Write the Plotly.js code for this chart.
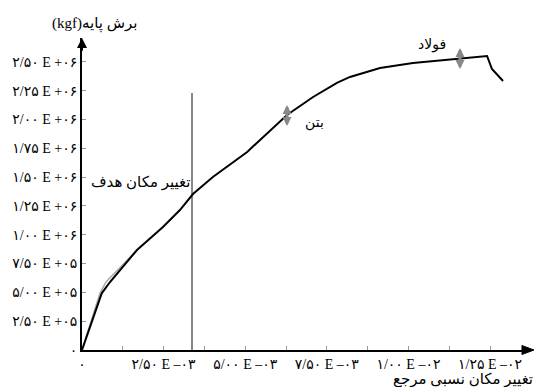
<!DOCTYPE html>
<html>
<head>
<meta charset="utf-8">
<script src="https://cdn.plot.ly/plotly-3.0.1.min.js"></script>
<style>
  html, body { margin: 0; background: #fff; overflow: hidden; }
  #chart { width: 535px; height: 387px; }
</style>
</head>
<body>
<div id="chart"></div>
<script>
// pushover curve: relative roof displacement vs base shear (kgf)
const dispX = [0, 0.000604, 0.000858, 0.001685, 0.00248, 0.0030, 0.0034, 0.00401, 0.00506,
    0.00628, 0.00708, 0.00781, 0.00821, 0.00913, 0.01014, 0.01149, 0.01241, 0.01256, 0.0129];
const shearY = [0, 492000, 590000, 868000, 1068000, 1215000, 1354000, 1502000, 1719000,
    2040000, 2196000, 2318000, 2370000, 2448000, 2491000, 2526000, 2552000, 2439000, 2335000];

// faint second curve near the kink
const grayX = [0, 0.000551, 0.000735, 0.001685];
const grayY = [0, 495000, 590000, 868000];

// target displacement line
const targetX = [0.00337, 0.00337];
const targetY = [0, 2231000];

const yTickVals = [0, 250000, 500000, 750000, 1000000, 1250000, 1500000, 1750000, 2000000, 2250000, 2500000];
const yTickText = ["۰", "۲/۵۰ E +۰۵", "۵/۰۰ E +۰۵", "۷/۵۰ E +۰۵", "۱/۰۰ E +۰۶", "۱/۲۵ E +۰۶",
    "۱/۵۰ E +۰۶", "۱/۷۵ E +۰۶", "۲/۰۰ E +۰۶", "۲/۲۵ E +۰۶", "۲/۵۰ E +۰۶"];

const xTickVals = [0, 0.00125, 0.0025, 0.00375, 0.005, 0.00625, 0.0075, 0.00875, 0.01, 0.01125, 0.0125];
const xTickText = ["۰", "", "۲/۵۰ E –۰۳", "", "۵/۰۰ E –۰۳", "", "۷/۵۰ E –۰۳", "", "۱/۰۰ E –۰۲", "", "۱/۲۵ E –۰۲"];

const xMax = 0.013695;
const yMax = 2708000;

const fontFam = "'Liberation Serif', 'DejaVu Sans', serif";

const traces = [
    {x: grayX, y: grayY, mode: "lines", type: "scatter", line: {color: "#aaaaaa", width: 1.5}, hoverinfo: "skip"},
    {x: targetX, y: targetY, mode: "lines", type: "scatter", line: {color: "#888888", width: 2}, hoverinfo: "skip"},
    {x: dispX, y: shearY, mode: "lines", type: "scatter", line: {color: "#000000", width: 2}}
];

// arrow-only annotation (tiny invisible text so the shaft is not hidden)
function arrow(x, y, ax, ay, opts) {
    return Object.assign({x: x, y: y, ax: ax, ay: ay, xref: "x", yref: "y", axref: "x", ayref: "y",
        text: " ", font: {size: 1}, borderpad: 0, showarrow: true, arrowhead: 2, arrowsize: 1,
        arrowwidth: 2, arrowcolor: "#000"}, opts);
}

const layout = {
    width: 535,
    height: 387,
    margin: {l: 82, r: 6, t: 38, b: 37},
    paper_bgcolor: "#ffffff",
    plot_bgcolor: "#ffffff",
    showlegend: false,
    font: {family: fontFam, size: 14, color: "#000"},
    xaxis: {
        range: [0, xMax], showgrid: false, zeroline: false,
        showline: true, linecolor: "#000", linewidth: 2,
        ticks: "inside", ticklen: 4, tickcolor: "#999", tickwidth: 1,
        tickmode: "array", tickvals: xTickVals, ticktext: xTickText,
        tickfont: {family: fontFam, size: 14, color: "#000"}
    },
    yaxis: {
        range: [0, yMax], showgrid: false, zeroline: false,
        showline: true, linecolor: "#000", linewidth: 2,
        ticks: "inside", ticklen: 4, tickcolor: "#999", tickwidth: 1,
        tickmode: "array", tickvals: yTickVals, ticktext: yTickText,
        tickfont: {family: fontFam, size: 14, color: "#000"}
    },
    shapes: [
        // arrowhead at the end of the x axis (paper coords, so it is not clipped)
        {type: "path", xref: "paper", yref: "paper",
            path: "M1.0112,0 L0.9843,0.0144 L0.9843,-0.0144 Z",
            fillcolor: "#000", line: {color: "#000", width: 1}, layer: "above"}
    ],
    annotations: [
        // y axis arrowhead
        arrow(0, yMax, 0, yMax - 120000),
        // axis titles
        {x: 0.029, y: 1.045, xref: "paper", yref: "paper", xanchor: "center", yanchor: "middle",
            text: "(kgf)برش پایه", showarrow: false, font: {family: fontFam, size: 15}},
        {x: 1.013, y: -0.093, xref: "paper", yref: "paper", xanchor: "right", yanchor: "middle",
            text: "تغییر مکان نسبی مرجع", showarrow: false, font: {family: fontFam, size: 15}},
        // labels
        {x: 0.001777, y: 1450000, xref: "x", yref: "y", text: "تغییر مکان هدف", showarrow: false,
            font: {family: fontFam, size: 15}},
        {x: 0.00711, y: 1970000, xref: "x", yref: "y", text: "بتن", showarrow: false,
            font: {family: fontFam, size: 14}},
        {x: 0.01072, y: 2648000, xref: "x", yref: "y", text: "فولاد", showarrow: false,
            font: {family: fontFam, size: 14}},
        // double-headed markers
        arrow(0.00628, 2127000, 0.00628, 1936000, {arrowside: "end+start", arrowsize: 0.6,
            arrowwidth: 3, arrowcolor: "#888888"}),
        arrow(0.01158, 2622000, 0.01158, 2431000, {arrowside: "end+start", arrowsize: 0.6,
            arrowwidth: 3, arrowcolor: "#888888"})
    ]
};

Plotly.newPlot("chart", traces, layout, {displayModeBar: false, staticPlot: true});
</script>
</body>
</html>
